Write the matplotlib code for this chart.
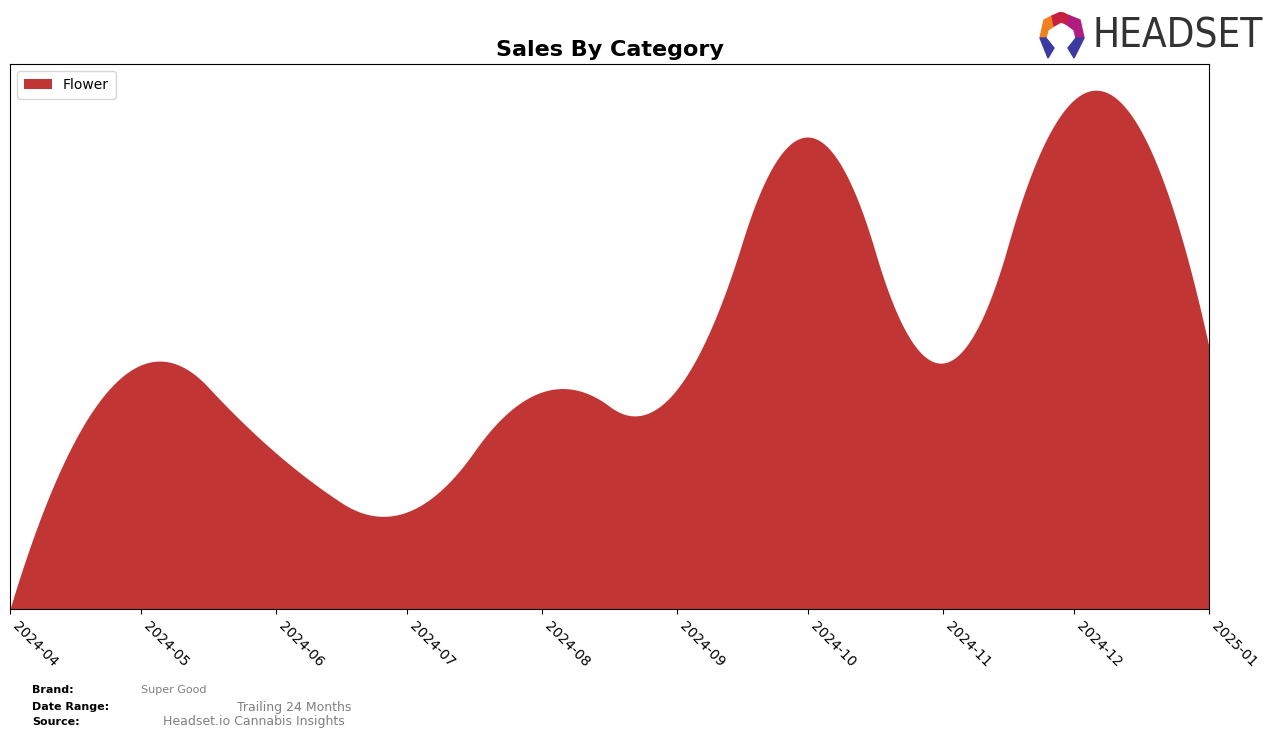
import numpy as np
import matplotlib
matplotlib.use('Agg')
import matplotlib.pyplot as plt
import matplotlib.dates as mdates
import matplotlib.patches as mpatches

# monthly sales (relative units)
months = ['2024-04', '2024-05', '2024-06', '2024-07', '2024-08',
          '2024-09', '2024-10', '2024-11', '2024-12', '2025-01']
flower = [0, 244, 156, 97, 217, 220, 472, 246, 509, 262]


def bspl_basis(t, k, xs):
    # Cox-de Boor, returns (len(xs), len(t)-k-1)
    xs = np.asarray(xs, float)
    nb = len(t) - 1
    B = np.zeros((len(xs), nb))
    last = max(i for i in range(nb) if t[i] < t[i + 1])
    for i in range(nb):
        if t[i] < t[i + 1]:
            if i == last:
                B[:, i] = (xs >= t[i]) & (xs <= t[i + 1])
            else:
                B[:, i] = (xs >= t[i]) & (xs < t[i + 1])
    for p in range(1, k + 1):
        Bn = np.zeros((len(xs), len(t) - p - 1))
        for i in range(len(t) - p - 1):
            d1 = t[i + p] - t[i]
            d2 = t[i + p + 1] - t[i + 1]
            a = (xs - t[i]) / d1 * B[:, i] if d1 > 0 else 0
            b = (t[i + p + 1] - xs) / d2 * B[:, i + 1] if d2 > 0 else 0
            Bn[:, i] = a + b
        B = Bn
    return B


def smooth_quad(x, y, xs):
    # quadratic interpolating spline, knots at midpoints (like make_interp_spline k=2)
    x = np.asarray(x, float)
    k = 2
    mid = (x[1:] + x[:-1]) / 2
    t = np.r_[[x[0]] * (k + 1), mid[1:-1], [x[-1]] * (k + 1)]
    c = np.linalg.solve(bspl_basis(t, k, x), np.asarray(y, float))
    return bspl_basis(t, k, xs) @ c


dates = mdates.datestr2num([m + '-01' for m in months])
xs = np.linspace(dates[0], dates[-1], 800)
ys = smooth_quad(dates, flower, xs)

fig = plt.figure(figsize=(12.76, 7.38), dpi=100)
ax = fig.add_axes([10 / 1276, 1 - 609 / 738, 1199 / 1276, 545 / 738])

ax.fill_between(xs, 0, ys, color='#c13535', linewidth=0, label='Flower')
ax.set_xlim(dates[0], dates[-1])
ax.set_ylim(0, 545)
ax.set_yticks([])
ax.set_xticks(dates)
ax.set_xticklabels(months, rotation=-45, ha='left', fontsize=10)
ax.legend(loc='upper left', fontsize=10, handlelength=2, borderpad=0.5)

fig.text(610 / 1276, 1 - 50 / 738, 'Sales By Category', ha='center', va='center',
         fontsize=16, fontweight='bold')

# footer
fig.text(32 / 1276, 1 - 690 / 738, 'Brand:', fontsize=8, fontweight='bold', va='center')
fig.text(141 / 1276, 1 - 690 / 738, 'Super Good', fontsize=8, color='gray', va='center')
fig.text(32 / 1276, 1 - 707 / 738, 'Date Range:', fontsize=8, fontweight='bold', va='center')
fig.text(237 / 1276, 1 - 707 / 738, 'Trailing 24 Months', fontsize=9, color='gray', va='center')
fig.text(32 / 1276, 1 - 722 / 738, 'Source:', fontsize=8, fontweight='bold', va='center')
fig.text(163 / 1276, 1 - 722 / 738, 'Headset.io Cannabis Insights', fontsize=9, color='gray', va='center')

# logo
lx = fig.add_axes([1036 / 1276, 1 - 60 / 738, 50 / 1276, 48 / 738])
lx.set_xlim(0, 50)
lx.set_ylim(0, 48)
lx.axis('off')
lx.add_patch(mpatches.Polygon([[4, 22], [8, 40], [16, 44], [18, 34], [12, 30], [10, 22]], color='#f08020'))
lx.add_patch(mpatches.Polygon([[16, 44], [25, 48], [34, 44], [30, 36], [25, 38], [18, 34]], color='#c8203c'))
lx.add_patch(mpatches.Polygon([[34, 44], [44, 40], [48, 22], [40, 22], [38, 30], [30, 36]], color='#b01c80'))
lx.add_patch(mpatches.Polygon([[4, 22], [10, 22], [18, 12], [12, 2]], color='#3a3aa0'))
lx.add_patch(mpatches.Polygon([[48, 22], [40, 22], [32, 12], [38, 2]], color='#3a3aa0'))
fig.text(1092 / 1276, 1 - 37 / 738, 'HEADSET', fontsize=29, color='#333333',
         va='center', ha='left', fontstretch='condensed')

fig.savefig('out.png', dpi=100)
